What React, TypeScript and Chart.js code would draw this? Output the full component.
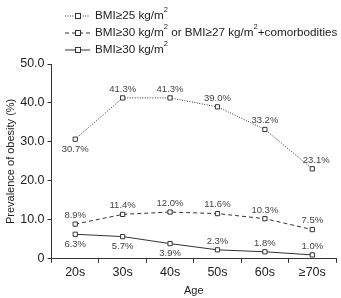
import React, { useEffect, useRef } from "react";
import { Chart, registerables } from "chart.js";

Chart.register(...registerables);

const categories = ["20s", "30s", "40s", "50s", "60s", "≥70s"];
const bmi25 = [30.7, 41.3, 41.3, 39.0, 33.2, 23.1];
const bmi30or27 = [8.9, 11.4, 12.0, 11.6, 10.3, 7.5];
const bmi30 = [6.3, 5.7, 3.9, 2.3, 1.8, 1.0];
const yTicks = [0, 10, 20, 30, 40, 50];

// label placement: 1 = above, -1 = below
const pos25 = [-1, 1, 1, 1, 1, 1];
const pos30or27 = [1, 1, 1, 1, 1, 1];
const pos30 = [-1, -1, -1, 1, 1, 1];

const FONT = "'Liberation Sans', Arial, sans-serif";
const INK = "#333333";

const labelPlugin = {
  id: "valueLabels",
  afterDatasetsDraw(chart: any) {
    const ctx = chart.ctx;
    const placements = [pos25, pos30or27, pos30];
    ctx.save();
    ctx.font = `9.5px ${FONT}`;
    ctx.fillStyle = "#444";
    ctx.textAlign = "center";
    chart.data.datasets.forEach((ds: any, di: number) => {
      const meta = chart.getDatasetMeta(di);
      meta.data.forEach((pt: any, i: number) => {
        const v = ds.data[i];
        const p = placements[di][i];
        const txt = v.toFixed(1) + "%";
        let dx = 0;
        if (di === 0 && i === 5) dx = 4;
        if (p > 0) {
          ctx.textBaseline = "bottom";
          ctx.fillText(txt, pt.x + dx, pt.y - 4);
        } else {
          ctx.textBaseline = "top";
          ctx.fillText(txt, pt.x + dx, pt.y + 5);
        }
      });
    });
    ctx.restore();
  },
};

const legendPlugin = {
  id: "customLegend",
  afterDraw(chart: any) {
    const ctx = chart.ctx;
    const items = [
      { dash: [1, 1.5], parts: [["BMI≥25 kg/m", false], ["2", true]] },
      {
        dash: [4, 3],
        parts: [
          ["BMI≥30 kg/m", false],
          ["2", true],
          [" or BMI≥27 kg/m", false],
          ["2", true],
          ["+comorbodities", false],
        ],
      },
      { dash: [], parts: [["BMI≥30 kg/m", false], ["2", true]] },
    ];
    ctx.save();
    items.forEach((it, k) => {
      const y = 16 + k * 17;
      ctx.strokeStyle = INK;
      ctx.lineWidth = 1;
      ctx.setLineDash(it.dash);
      ctx.beginPath();
      ctx.moveTo(65, y);
      ctx.lineTo(90, y);
      ctx.stroke();
      ctx.setLineDash([]);
      ctx.fillStyle = "#fff";
      ctx.fillRect(75, y - 2.5, 5, 5);
      ctx.strokeRect(75.5, y - 2.5, 5, 5);
      let x = 95;
      ctx.fillStyle = "#222";
      ctx.textAlign = "left";
      ctx.textBaseline = "middle";
      (it.parts as any[]).forEach(([t, sup]) => {
        if (sup) {
          ctx.font = `7.5px ${FONT}`;
          ctx.fillText(t, x, y - 6);
        } else {
          ctx.font = `11.7px ${FONT}`;
          ctx.fillText(t, x, y);
        }
        x += ctx.measureText(t).width;
      });
    });
    ctx.restore();
  },
};

export default function App() {
  const ref = useRef<HTMLCanvasElement>(null);
  useEffect(() => {
    if (!ref.current) return;
    const mk = (data: number[], dash: number[]) => ({
      data,
      borderColor: INK,
      borderWidth: 1,
      borderDash: dash,
      pointStyle: "rect",
      pointRadius: 3,
      pointBackgroundColor: "#fff",
      pointBorderColor: INK,
      pointBorderWidth: 1,
      tension: 0,
      fill: false,
    });
    const chart = new Chart(ref.current, {
      type: "line",
      data: {
        labels: categories,
        datasets: [mk(bmi25, [1, 1.5]), mk(bmi30or27, [4, 3]), mk(bmi30, [])],
      },
      options: {
        animation: false,
        responsive: false,
        layout: { padding: { top: 64, right: 1, left: 4, bottom: 0 } },
        plugins: { legend: { display: false }, tooltip: { enabled: false } },
        scales: {
          x: {
            offset: true,
            grid: {
              offset: true,
              drawOnChartArea: false,
              drawTicks: true,
              tickLength: 4,
              color: INK,
            },
            border: { color: INK },
            ticks: { color: "#222", font: { family: FONT, size: 12.5 }, padding: 2 },
            title: {
              display: true,
              text: "Age",
              color: "#222",
              font: { family: FONT, size: 11 },
              padding: { top: 3, bottom: 0 },
            },
          },
          y: {
            min: yTicks[0],
            max: yTicks[yTicks.length - 1],
            ticks: {
              stepSize: yTicks[1] - yTicks[0],
              color: "#222",
              font: { family: FONT, size: 12.5 },
              padding: 3,
              callback: (v: any) => (Number(v) === 0 ? "0" : Number(v).toFixed(1)),
            },
            grid: {
              drawOnChartArea: false,
              drawTicks: true,
              tickLength: 4,
              color: INK,
            },
            border: { color: INK },
            title: {
              display: true,
              text: "Prevalence of obesity (%)",
              color: "#222",
              font: { family: FONT, size: 11 },
              padding: { top: 0, bottom: 0 },
            },
          },
        },
      },
      plugins: [labelPlugin, legendPlugin],
    } as any);
    return () => chart.destroy();
  }, []);
  return (
    <div style={{ position: "absolute", left: 0, top: 0, width: 341, height: 298, background: "#fff" }}>
      <canvas ref={ref} width={341} height={298} style={{ display: "block" }} />
    </div>
  );
}
